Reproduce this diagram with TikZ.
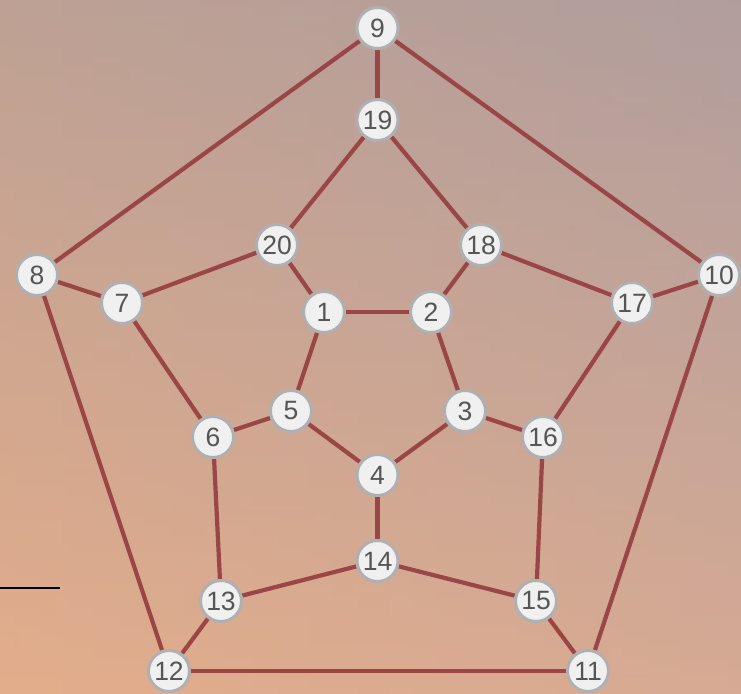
\documentclass[tikz,border=0pt]{standalone}
\usepackage{fontspec}
\setmainfont{Liberation Sans}
\usetikzlibrary{backgrounds}
\definecolor{edgecol}{RGB}{154,70,70}
\definecolor{nodefill}{RGB}{240,240,241}
\definecolor{nodeborder}{RGB}{176,176,178}
\definecolor{numcol}{RGB}{85,85,85}
\definecolor{bgtop}{RGB}{158,152,157}
\definecolor{bgbot}{RGB}{226,174,140}
\definecolor{bgleft}{RGB}{228,172,138}
\definecolor{bgright}{RGB}{200,166,158}
\tikzset{
  vtx/.style={circle, fill=nodefill, draw=nodeborder, line width=3pt, minimum size=41pt, inner sep=0pt, text=numcol, font=\fontsize{26.5}{26.5}\selectfont},
  edge/.style={draw=edgecol, line width=4.2pt},
}
\begin{document}
\begin{tikzpicture}[x=1pt,y=1pt]
\useasboundingbox (0,0) rectangle (741,693);
\node[vtx] (n9)  at (377.5,665) {9};
\node[vtx] (n19) at (377.5,573) {19};
\node[vtx] (n20) at (277,448) {20};
\node[vtx] (n18) at (481,448) {18};
\node[vtx] (n8)  at (37,418) {8};
\node[vtx] (n7)  at (122,390) {7};
\node[vtx] (n1)  at (324,381) {1};
\node[vtx] (n2)  at (431,381) {2};
\node[vtx] (n17) at (632,390) {17};
\node[vtx] (n10) at (719,418) {10};
\node[vtx] (n5)  at (291,282) {5};
\node[vtx] (n3)  at (465,282) {3};
\node[vtx] (n6)  at (213,256) {6};
\node[vtx] (n16) at (543,256) {16};
\node[vtx] (n4)  at (377.5,218) {4};
\node[vtx] (n14) at (377.5,132) {14};
\node[vtx] (n13) at (221,92) {13};
\node[vtx] (n15) at (536,92) {15};
\node[vtx] (n12) at (169,22) {12};
\node[vtx] (n11) at (588,22) {11};
\begin{scope}[on background layer]
\shade[top color=bgtop, bottom color=bgbot] (0,0) rectangle (741,693);
\shade[left color=bgleft, right color=bgright, opacity=0.45] (0,0) rectangle (741,693);
\draw[black, line width=2pt] (0,105) -- (60,105);
\foreach \a/\b in {n9/n19,n9/n8,n9/n10,n19/n20,n19/n18,n20/n7,n20/n1,n18/n2,n18/n17,n8/n7,n8/n12,n10/n17,n10/n11,n1/n2,n1/n5,n2/n3,n7/n6,n17/n16,n5/n6,n5/n4,n3/n4,n3/n16,n6/n13,n16/n15,n4/n14,n14/n13,n14/n15,n13/n12,n15/n11,n12/n11}
  \draw[edge] (\a) -- (\b);
\end{scope}
\end{tikzpicture}
\end{document}
